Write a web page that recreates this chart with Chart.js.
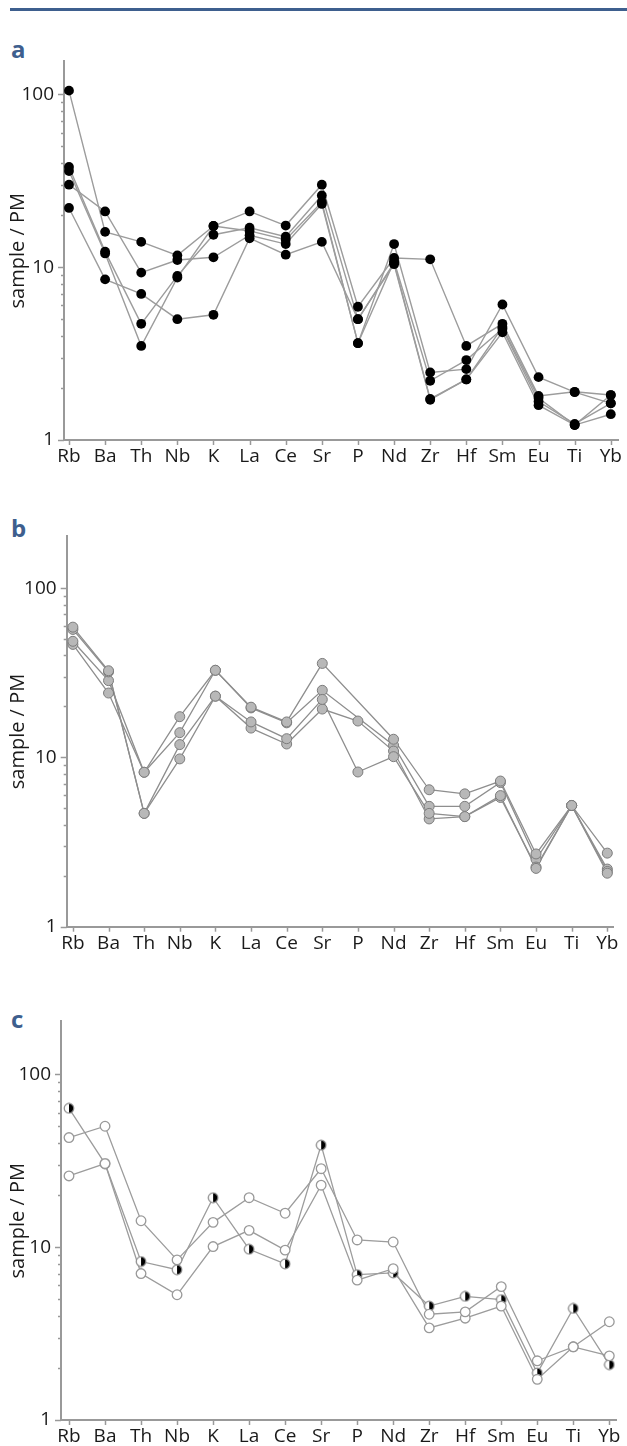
<!DOCTYPE html>
<html>
<head>
<meta charset="utf-8">
<script src="https://cdn.jsdelivr.net/npm/chart.js@4"></script>
<style>
  body { margin: 0; background: #fff; width: 627px; height: 1446px; overflow: hidden; position: relative; font-family: "Open Sans", sans-serif; }
  .rule { position: absolute; left: 10px; top: 8px; width: 617px; height: 3px; background: #3e5f8e; }
  .tag { position: absolute; left: 11px; font-weight: 700; font-size: 24px; line-height: 24px; color: #3e5f8e; }
  .panel { position: absolute; left: 0; }
</style>
</head>
<body>
<div class="rule"></div>
<div class="tag" style="top:37px">a</div>
<div class="tag" style="top:516px">b</div>
<div class="tag" style="top:1007px">c</div>
<div class="panel" style="top:40px"><canvas id="chartA" width="627" height="440"></canvas></div>
<div class="panel" style="top:515px"><canvas id="chartB" width="627" height="450"></canvas></div>
<div class="panel" style="top:1000px"><canvas id="chartC" width="627" height="446"></canvas></div>
<script>
// trace elements, primitive mantle normalised
const elements = ['Rb', 'Ba', 'Th', 'Nb', 'K', 'La', 'Ce', 'Sr', 'P', 'Nd', 'Zr', 'Hf', 'Sm', 'Eu', 'Ti', 'Yb'];
const yTicks = [1, 2, 3, 4, 5, 6, 7, 8, 9, 10, 20, 30, 40, 50, 60, 70, 80, 90, 100];
const yLabels = [1, 10, 100];

// panel a - filled black
const a1 = [105, 16, 14, 11.7, 17.3, 21, 17.4, 30, 5.9, 11.3, 11.1, 3.5, 4.7, 1.8, 1.9, 1.82];
const a2 = [30, 21, 9.3, 11, 11.4, 15.3, 13.6, 23.2, 3.63, 10.8, 2.2, 2.9, 4.4, 1.67, 1.24, 1.63];
const a3 = [38, 12.3, 4.7, 8.9, 15.4, 16.9, 15.0, 26, 5.0, 10.4, 1.71, 2.24, 4.2, 1.59, 1.22, 1.41];
const a4 = [36, 12, 3.5, 8.7, 17.3, 16.2, 14.4, 23.8, 3.63, 13.6, 2.46, 2.57, 6.08, 2.31, 1.89, 1.63];
const a5 = [22, 8.5, 7, 5, 5.3, 14.7, 11.8, 14.0, 5.0, 10.6, 1.73, 2.24, 4.5, 1.75, 1.22, 1.82];

// panel b - grey
const b1 = [58.8, 32.5, 4.67, 11.9, 23, 16.2, 12.9, 22, 8.2, 10.1, 4.67, 4.47, 5.95, 2.21, 5.2, 2.07];
const b2 = [57, 32, 4.67, 9.8, 23, 14.9, 12.0, 19.3, 16.4, 10.9, 4.33, 4.47, 5.8, 2.25, 5.2, 2.12];
const b3 = [48.5, 28.4, 8.17, 17.4, 32.7, 19.8, 16.2, 35.9, null, 12.8, 6.44, 6.09, 7.25, 2.69, 5.2, 2.72];
const b4 = [46.5, 24, 8.17, 14.0, 32.7, 19.6, 16.0, 24.9, null, 11.8, 5.14, 5.14, 7.1, 2.5, 5.2, 2.19];

// panel c - half filled + open
const cHalf = [63.5, 30.4, 8.25, 7.4, 19.3, 9.72, 8.0, 38.9, 6.93, 7.09, 4.56, 5.19, 4.97, 1.87, 4.42, 2.09];
const cOpen1 = [43, 50, 14.2, 8.43, 13.9, 19.3, 15.7, 28.4, 11.0, 10.7, 4.09, 4.22, 5.91, 2.20, 2.65, 2.35];
const cOpen2 = [25.8, 30.4, 7.03, 5.3, 10.07, 12.5, 9.6, 22.8, 6.44, 7.5, 3.41, 3.88, 4.56, 1.72, 2.65, 3.70];

Chart.defaults.font.family = '"Open Sans", sans-serif';
Chart.defaults.color = '#1a1a1a';

function halfDot() {
    const c = document.createElement('canvas');
    c.width = 12; c.height = 12;
    const g = c.getContext('2d');
    g.beginPath(); g.arc(6, 6, 4.8, 0, 2 * Math.PI); g.fillStyle = '#fff'; g.fill();
    g.beginPath(); g.arc(6, 6, 4.8, -Math.PI / 2, Math.PI / 2); g.closePath(); g.fillStyle = '#000'; g.fill();
    g.beginPath(); g.arc(6, 6, 4.8, 0, 2 * Math.PI); g.strokeStyle = '#8a8a8a'; g.lineWidth = 1.2; g.stroke();
    return c;
}

function toPoints(values) {
    return values.map((v, i) => ({ x: i, y: v }));
}

const tickMarks = {
    id: 'tickMarks',
    afterDraw(chart) {
        const { ctx, scales: { x, y } } = chart;
        ctx.save();
        ctx.strokeStyle = '#999';
        ctx.lineWidth = 1.5;
        y.ticks.forEach(t => {
            const py = Math.round(y.getPixelForValue(t.value)) + 0.5;
            const len = yLabels.includes(t.value) ? 6 : 3;
            ctx.beginPath(); ctx.moveTo(y.right - len, py); ctx.lineTo(y.right, py); ctx.stroke();
        });
        x.ticks.forEach(t => {
            const px = Math.round(x.getPixelForValue(t.value)) + 0.5;
            ctx.beginPath(); ctx.moveTo(px, x.top); ctx.lineTo(px, x.top + 5); ctx.stroke();
        });
        ctx.restore();
    }
};

function makeChart(id, series, style, frame) {
    const datasets = [];
    // markers first so they sit above every line
    series.forEach(s => datasets.push({
        data: toPoints(s.values),
        showLine: false,
        pointStyle: s.pointStyle || 'circle',
        pointRadius: style.radius,
        pointBackgroundColor: s.fill || style.fill,
        pointBorderColor: style.border,
        pointBorderWidth: style.borderWidth,
        clip: false
    }));
    series.forEach(s => datasets.push({
        data: toPoints(s.values),
        showLine: true,
        spanGaps: true,
        borderColor: style.line,
        borderWidth: style.lineWidth,
        pointRadius: 0,
        tension: 0,
        clip: false
    }));

    return new Chart(document.getElementById(id), {
        type: 'scatter',
        data: { datasets: datasets },
        plugins: [tickMarks],
        options: {
            responsive: false,
            animation: false,
            layout: { padding: { top: frame.padTop, right: frame.padRight, left: 0, bottom: 0 } },
            plugins: { legend: { display: false }, tooltip: { enabled: false } },
            scales: {
                x: {
                    type: 'linear',
                    min: frame.xMin,
                    max: frame.xMax,
                    afterBuildTicks: scale => { scale.ticks = elements.map((e, i) => ({ value: i })); },
                    afterFit: scale => { scale.height = frame.xHeight; },
                    grid: { display: false, drawTicks: false },
                    border: { color: '#999', width: 2 },
                    ticks: {
                        autoSkip: false, maxRotation: 0, padding: 5,
                        font: { size: 19 }, color: '#1a1a1a',
                        callback: v => elements[v] ?? ''
                    }
                },
                y: {
                    type: 'logarithmic',
                    min: 1,
                    max: frame.yMax,
                    afterBuildTicks: scale => { scale.ticks = yTicks.map(v => ({ value: v })); },
                    afterFit: scale => { scale.width = frame.yWidth; },
                    grid: { display: false, drawTicks: false },
                    border: { color: '#999', width: 2 },
                    ticks: {
                        autoSkip: false, padding: 10,
                        font: { size: 19 }, color: '#1a1a1a',
                        callback: v => yLabels.includes(v) ? String(v) : ''
                    },
                    title: {
                        display: true, text: 'sample / PM',
                        font: { size: 20 }, color: '#1a1a1a',
                        padding: { top: 6, bottom: 0 }
                    }
                }
            }
        }
    });
}

makeChart('chartA',
    [a1, a2, a3, a4, a5].map(v => ({ values: v })),
    { radius: 4.9, fill: '#000', border: '#000', borderWidth: 0, line: '#9c9c9c', lineWidth: 1.4 },
    { padTop: 10, padRight: 6.3, xHeight: 40, yWidth: 64, xMin: -0.138, xMax: 15.204, yMax: 155 });

makeChart('chartB',
    [b1, b2, b3, b4].map(v => ({ values: v })),
    { radius: 5, fill: '#b8b8b8', border: '#7c7c7c', borderWidth: 1, line: '#8e8e8e', lineWidth: 1.3 },
    { padTop: 10, padRight: 14, xHeight: 38.3, yWidth: 66.7, xMin: -0.174, xMax: 15.16, yMax: 202 });

makeChart('chartC',
    [
        { values: cOpen1 },
        { values: cOpen2 },
        { values: cHalf, pointStyle: halfDot() }
    ],
    { radius: 4.8, fill: '#fff', border: '#999', borderWidth: 1.3, line: '#9c9c9c', lineWidth: 1.3 },
    { padTop: 11.7, padRight: 10.3, xHeight: 26, yWidth: 61, xMin: -0.222, xMax: 15.205, yMax: 202 });
</script>
</body>
</html>
